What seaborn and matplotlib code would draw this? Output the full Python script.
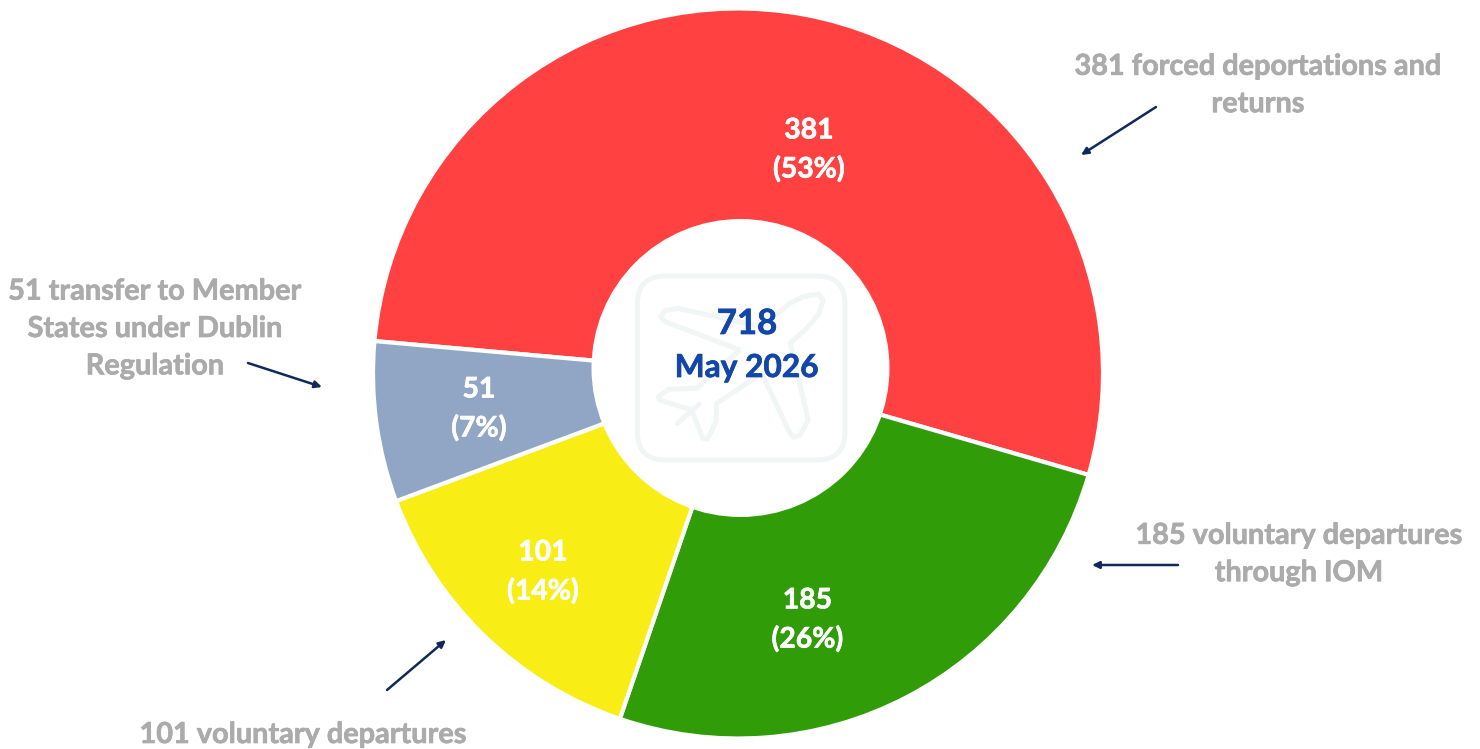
import matplotlib
matplotlib.use("Agg")
import matplotlib.pyplot as plt
import matplotlib.patheffects as pe
import seaborn as sns
from matplotlib.patches import FancyBboxPatch, Circle
from matplotlib.path import Path
from matplotlib.patches import PathPatch

categories = ["forced deportations and returns", "voluntary departures through IOM",
              "voluntary departures", "transfer to Member States under Dublin Regulation"]
values = [381, 185, 101, 51]
percents = [53, 26, 14, 7]
colors = ["#FF4141", "#2F9C08", "#F8EE16", "#91A5C5"]
total = 718
period = "May 2026"

side_labels = ["381 forced deportations and\nreturns",
               "185 voluntary departures\nthrough IOM",
               "101 voluntary departures",
               "51 transfer to Member\nStates under Dublin\nRegulation"]

sns.set_theme(style="white")
plt.rcParams["font.family"] = ["Lato", "DejaVu Sans"]
plt.rcParams["font.weight"] = "bold"

W, H = 1480, 749
fig = plt.figure(figsize=(W / 100, H / 100), dpi=100, facecolor="white")

# Pie on its own axes (y up) placed in pixel space
cx, cy, R = 738, 373.5, 365
pie_ax = fig.add_axes([(cx - R) / W, 1 - (cy + R) / H, 2 * R / W, 2 * R / H])
pie_ax.pie(values, colors=sns.color_palette(colors), startangle=174.9, counterclock=False,
           radius=1, wedgeprops=dict(edgecolor="white", linewidth=3.0))
pie_ax.set_xlim(-1, 1)
pie_ax.set_ylim(-1, 1)
pie_ax.set_aspect("equal")
pie_ax.patch.set_alpha(0)
for w in pie_ax.patches:
    w.set_clip_on(False)

ov = fig.add_axes([0, 0, 1, 1])
ov.set_xlim(0, W)
ov.set_ylim(H, 0)
ov.axis("off")
ov.patch.set_alpha(0)

ov.add_patch(Circle((740.5, 368), 149, fc="white", ec="none"))

# watermark icon
ICON = "#F1F5F6"
def Z(x, y):
    return (590 + x / 3, 220 + y / 3)
x0, y0 = Z(142, 168)
x1, y1 = Z(765, 720)
box = FancyBboxPatch((x0 + 20, y0 + 20), x1 - x0 - 40, y1 - y0 - 40,
                     boxstyle="round,pad=20,rounding_size=28", fc="none", ec=ICON, lw=3.6)
ov.add_patch(box)
plane = [(450, 390), (225, 305), (212, 290), (225, 272), (265, 265), (515, 320), (600, 250), (640, 230),
         (685, 222), (700, 240), (685, 285), (650, 325), (600, 370), (655, 600), (630, 645), (612, 652),
         (600, 640), (515, 460), (380, 550), (378, 605), (352, 658), (338, 655), (305, 570), (210, 540),
         (205, 530), (235, 508), (320, 505), (450, 390)]
ov.add_patch(PathPatch(Path([Z(*p) for p in plane]), fc="none", ec=ICON, lw=3.6, joinstyle="round"))
ov.add_patch(PathPatch(Path([Z(262, 610), Z(328, 552)]), fc="none", ec=ICON, lw=3.6, capstyle="round"))

def heavy(col):
    return [pe.withStroke(linewidth=0.5, foreground=col)]

# centre text
BLUE = "#1246A8"
ov.text(747, 324, str(total), color=BLUE, fontsize=25, ha="center", va="center", path_effects=heavy(BLUE))
ov.text(746.5, 367.5, period, color=BLUE, fontsize=22.8, ha="center", va="center", path_effects=heavy(BLUE))

# value labels on slices
pos = [(809, 150), (807.5, 620), (543, 572), (479, 409)]
for (x, y), v, p in zip(pos, values, percents):
    ov.text(x, y, f"{v}\n({p}%)", color="white", fontsize=20.4, ha="center", va="center",
            linespacing=1.54, path_effects=heavy("white"))

# side labels
GREY = "#ABABAB"
side_pos = [(1258, 85.5), (1299, 554.5), (303, 735), (155, 329)]
for (x, y), s in zip(side_pos, side_labels):
    ov.text(x, y, s, color=GREY, fontsize=20.8, ha="center", va="center", linespacing=1.54,
            path_effects=heavy(GREY))

# arrows
NAVY = "#10295C"
arrows = [((1156, 107), (1081, 155)), ((1178, 565), (1092, 565)),
          ((387, 690), (446, 640)), ((248, 363), (322, 387))]
for a, b in arrows:
    ov.annotate("", xy=b, xytext=a,
                arrowprops=dict(arrowstyle="-|>,head_length=0.35,head_width=0.17", color=NAVY, lw=1.8,
                                shrinkA=0, shrinkB=0))

fig.savefig("out.png", dpi=100)
